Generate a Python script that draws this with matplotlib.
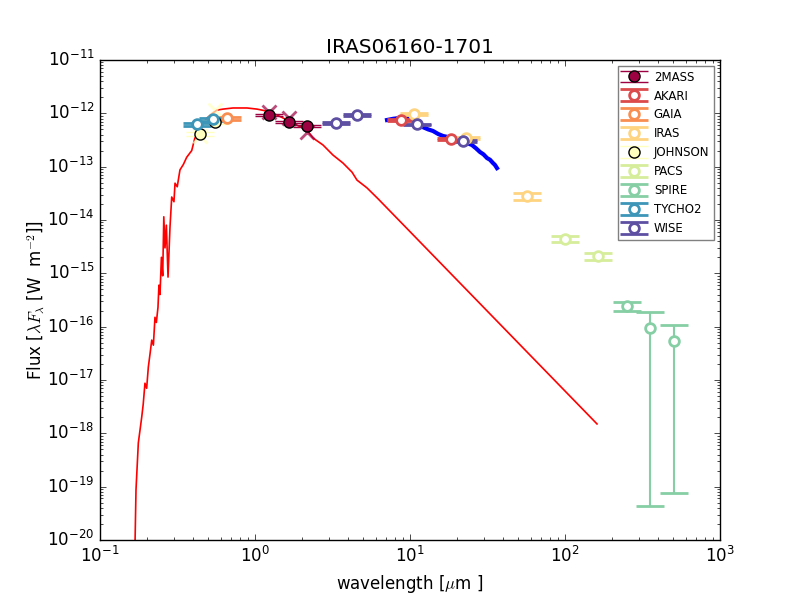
import numpy as np
import matplotlib
matplotlib.use('Agg')
import matplotlib.pyplot as plt

plt.style.use('classic')
plt.rcParams['axes.unicode_minus'] = False

# photometry (wavelength in micron, lambda*F_lambda in W m^-2)
wl_2mass = [1.235, 1.662, 2.159]
f_2mass = [9.3e-13, 6.9e-13, 5.8e-13]
e_2mass = [4e-14, 3e-14, 2.5e-14]
fx_2mass = [1.06e-12, 8.2e-13, 4.5e-13]

wl_akari = [8.71, 18.3]
f_akari = [7.5e-13, 3.3e-13]
e_akari = [3e-14, 1.5e-14]

wl_gaia = [0.66]
f_gaia = [8.1e-13]
e_gaia = [6e-14]

wl_iras = [10.6, 23.0, 56.9]
f_iras = [9.6e-13, 3.4e-13, 2.8e-14]
e_iras = [4e-14, 1.5e-14, 3.8e-15]

wl_johnson = [0.44, 0.55]
f_johnson = [4.1e-13, 6.9e-13]
e_johnson = [4e-14, 5e-14]
fx_johnson = [3.8e-13, 1.15e-12]

wl_pacs = [100.0, 163.0]
f_pacs = [4.4e-15, 2.1e-15]
e_pacs = [5.5e-16, 3.5e-16]

wl_spire = [251.0, 353.0, 505.0]
f_spire = [2.4e-16, 9.4e-17, 5.4e-17]
e_spire = [4.6e-17, 9.3956e-17, 5.3925e-17]

wl_tycho = [0.423, 0.536]
f_tycho = [6.3e-13, 7.8e-13]
e_tycho = [4e-14, 5e-14]

wl_wise = [3.33, 4.55, 11.1, 22.0]
f_wise = [6.6e-13, 9.3e-13, 6.2e-13, 3.0e-13]
e_wise = [2e-14, 2.5e-14, 2e-14, 1e-14]

# model spectrum
wl_model = [0.166, 0.1707, 0.1767, 0.1858, 0.190, 0.195, 0.200, 0.205, 0.210, 0.2157,
            0.2210, 0.2263, 0.2310, 0.2366, 0.2400, 0.2438, 0.2490, 0.2538, 0.2580, 0.2626,
            0.2680, 0.2747, 0.2829, 0.2902, 0.3000, 0.3048, 0.3150, 0.328, 0.345, 0.3625,
            0.3905, 0.41, 0.4417, 0.49, 0.536, 0.5686, 0.6216, 0.721, 0.888, 1.03,
            1.195, 1.387, 1.609, 1.866, 2.165, 2.367, 2.746, 3.185, 3.695, 4.225,
            4.55, 5.28, 6.22, 160.9]
f_model = [1e-21, 8.7e-20, 6.6e-19, 2.0e-18, 3.5e-18, 8.7e-18, 7.0e-18, 1.74e-17, 3.0e-17, 5.6e-17,
           4.5e-17, 1.5e-16, 1.2e-16, 2.3e-16, 6.0e-16, 4.0e-16, 2.0e-15, 9.0e-16, 1.15e-14, 3.0e-15,
           8.0e-15, 8.5e-16, 7.4e-15, 2.7e-14, 2.2e-14, 4.9e-14, 4.2e-14, 8.7e-14, 1.1e-13, 1.5e-13,
           2.0e-13, 3.5e-13, 5.5e-13, 8.2e-13, 1.02e-12, 1.15e-12, 1.2e-12, 1.26e-12, 1.26e-12, 1.2e-12,
           1.1e-12, 9.3e-13, 7.5e-13, 6.0e-13, 4.87e-13, 3.45e-13, 2.55e-13, 1.65e-13, 1.17e-13, 7.9e-14,
           5.6e-14, 4.0e-14, 2.5e-14, 1.5e-18]

# IR spectrum
wl_spec = [7.11, 7.8, 8.62, 9.56, 10.45, 11.3, 12.13, 13.1, 14.07, 15.2, 16.33, 17.5,
           18.66, 20.3, 21.98, 23.5, 25.1, 26.7, 28.3, 29.8, 31.4, 32.8, 34.3, 35.3, 36.4]
f_spec = [7.5e-13, 7.9e-13, 8.2e-13, 8.5e-13, 7.5e-13, 6.3e-13, 5.5e-13, 5.0e-13, 4.67e-13, 4.1e-13,
          3.76e-13, 3.6e-13, 3.45e-13, 3.2e-13, 2.9e-13, 2.75e-13, 2.55e-13, 2.2e-13, 1.88e-13, 1.7e-13,
          1.45e-13, 1.35e-13, 1.17e-13, 1.08e-13, 9.4e-14]

cols = plt.cm.Spectral(np.linspace(0, 1, 9))

fig = plt.figure(figsize=(8, 6))
ax = fig.add_subplot(111)

ax.plot(wl_model, f_model, color='red', lw=1.2, zorder=1)
ax.plot(wl_spec, f_spec, color='blue', lw=3, zorder=1)

ax.plot(wl_2mass, fx_2mass, 'x', color=cols[0], ms=10, mew=2, alpha=0.7, zorder=2)
ax.plot(wl_johnson, fx_johnson, 'x', color=cols[4], ms=10, mew=2, alpha=0.7, zorder=2)

sets = [('2MASS', wl_2mass, f_2mass, e_2mass),
        ('AKARI', wl_akari, f_akari, e_akari),
        ('GAIA', wl_gaia, f_gaia, e_gaia),
        ('IRAS', wl_iras, f_iras, e_iras),
        ('JOHNSON', wl_johnson, f_johnson, e_johnson),
        ('PACS', wl_pacs, f_pacs, e_pacs),
        ('SPIRE', wl_spire, f_spire, e_spire),
        ('TYCHO2', wl_tycho, f_tycho, e_tycho),
        ('WISE', wl_wise, f_wise, e_wise)]

for i, (name, wl, f, e) in enumerate(sets):
    c = cols[i]
    if name in ('2MASS', 'JOHNSON'):
        ax.errorbar(wl, f, yerr=e, fmt='o', mfc=c, mec='black', mew=1, ms=8,
                    ecolor=c, elinewidth=1, capsize=10, capthick=1, label=name, zorder=3)
    else:
        ax.errorbar(wl, f, yerr=e, fmt='o', mfc='white', mec=c, mew=2, ms=7,
                    ecolor=c, elinewidth=1.5, capsize=10, capthick=2.2, label=name, zorder=3)

ax.set_xscale('log')
ax.set_yscale('log')
ax.set_xlim(0.1, 1000)
ax.set_ylim(1e-20, 1e-11)
ax.set_xlabel(r'wavelength [$\mu$m ]')
ax.set_ylabel(r'Flux [$\lambda F_{\lambda}$ [W  m$^{-2}$]]', labelpad=0)
ax.set_title('IRAS06160-1701')
leg = ax.legend(loc='upper right', numpoints=1, fontsize=8.5, handlelength=1.8)
leg.get_frame().set_edgecolor('gray')

fig.savefig('out.png', dpi=100)
